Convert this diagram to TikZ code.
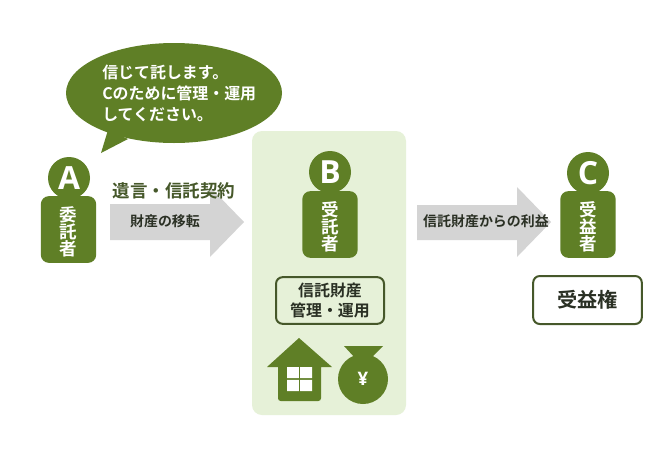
\documentclass[tikz,border=0pt]{standalone}
\usepackage{fontspec}
\newfontfamily\jp{Noto Sans CJK JP}[BoldFont={Noto Sans CJK JP Bold}]
\newfontfamily\lat{Open Sans}[BoldFont={Open Sans Bold}]
\definecolor{leaf}{HTML}{5F7F26}
\definecolor{panel}{HTML}{E6F1D8}
\definecolor{arrowgray}{HTML}{D4D4D4}
\definecolor{edge}{HTML}{46582A}
\definecolor{ink}{HTML}{2A3024}
\newcommand{\lowerstart}{\rule{0pt}{15bp}}
\tikzset{
  x=0.75bp,y=-0.75bp,
  fillgreen/.style={fill=leaf,draw=none},
  head/.style={circle,fill=leaf,minimum size=31.5bp,inner sep=0pt,text=white,font=\lat\bfseries\fontsize{24}{24}\selectfont},
  body/.style={rounded corners=6bp,fill=leaf,minimum width=41.5bp,minimum height=50bp,inner sep=0pt,text=white,align=center,font=\jp\bfseries\fontsize{13.2}{13}\selectfont},
  framed/.style={rounded corners=5bp,draw=edge,line width=1.5bp,inner sep=0pt,text=ink,align=center},
  flow/.style={fill=arrowgray,draw=none},
  label/.style={inner sep=0pt,font=\jp\bfseries\fontsize{10.5}{10.5}\selectfont,text=ink},
}
\begin{document}
\begin{tikzpicture}
\useasboundingbox (0,0) rectangle (660,450);
\fill[white] (0,0) rectangle (660,450);
% speech bubble
\fill[fillgreen] (174,93) ellipse [x radius=108,y radius=50];
\fill[fillgreen] (108,130) -- (101,153) -- (128,139) -- cycle;
\node[inner sep=0pt,anchor=west,align=left,text=white,font=\jp\bfseries\fontsize{12}{15.8}\selectfont] (talk) at (102,93.5) {信じて託します。\\Cのために管理・運用\\してください。};
% panel
\fill[panel,rounded corners=7.5bp] (252,131) rectangle (406,415);
% arrows
\fill[flow] (110,204) -- (210,204) -- (210,187) -- (244,222) -- (210,257) -- (210,240) -- (110,240) -- cycle;
\fill[flow] (417,205) -- (517,205) -- (517,187) -- (551,222) -- (517,257) -- (517,240) -- (417,240) -- cycle;
\node[label,text=edge,font=\jp\bfseries\fontsize{13.2}{13}\selectfont] (contract) at (174,191) {遺言・信託契約};
\node[label] (move) at (165,221) {財産の移転};
\node[label] (profit) at (486,221) {信託財産からの利益};
% A
\node[head] (a) at (69,178) {A};
\node[body] (abody) at (68.5,229.5) {\lowerstart 委\\託\\者};
% B
\node[head] (b) at (330,172) {B};
\node[body] (bbody) at (330,224.5) {\lowerstart 受\\託\\者};
\node[framed,fill=panel,minimum width=81bp,minimum height=35bp,font=\jp\bfseries\fontsize{12}{15}\selectfont] (trust) at (330,300.5) {信託財産\\管理・運用};
% house
\fill[fillgreen] (299,338) -- (332,367) -- (321,367) -- (321,397) [rounded corners=2bp] -- (321,401) -- (278,401) [sharp corners] -- (278,367) -- (267,367) -- cycle;
\fill[white] (287,367) rectangle (298.8,378.2) (300.2,367) rectangle (312,378.2) (287,379.8) rectangle (298.8,391) (300.2,379.8) rectangle (312,391);
% money bag
\fill[fillgreen] (344,346) -- (383,346) -- (370,359) -- (356,359) -- cycle;
\node[circle,fill=leaf,minimum size=37.5bp,inner sep=0pt,text=white,font=\lat\bfseries\fontsize{14}{14}\selectfont] (bag) at (363,379) {¥};
% C
\node[head] (c) at (588,173) {C};
\node[body] (cbody) at (588,224.5) {\lowerstart 受\\益\\者};
\node[framed,fill=white,minimum width=81.5bp,minimum height=36bp,font=\jp\bfseries\fontsize{15.2}{15}\selectfont] (right) at (587.5,300) {受益権};
\end{tikzpicture}
\end{document}
